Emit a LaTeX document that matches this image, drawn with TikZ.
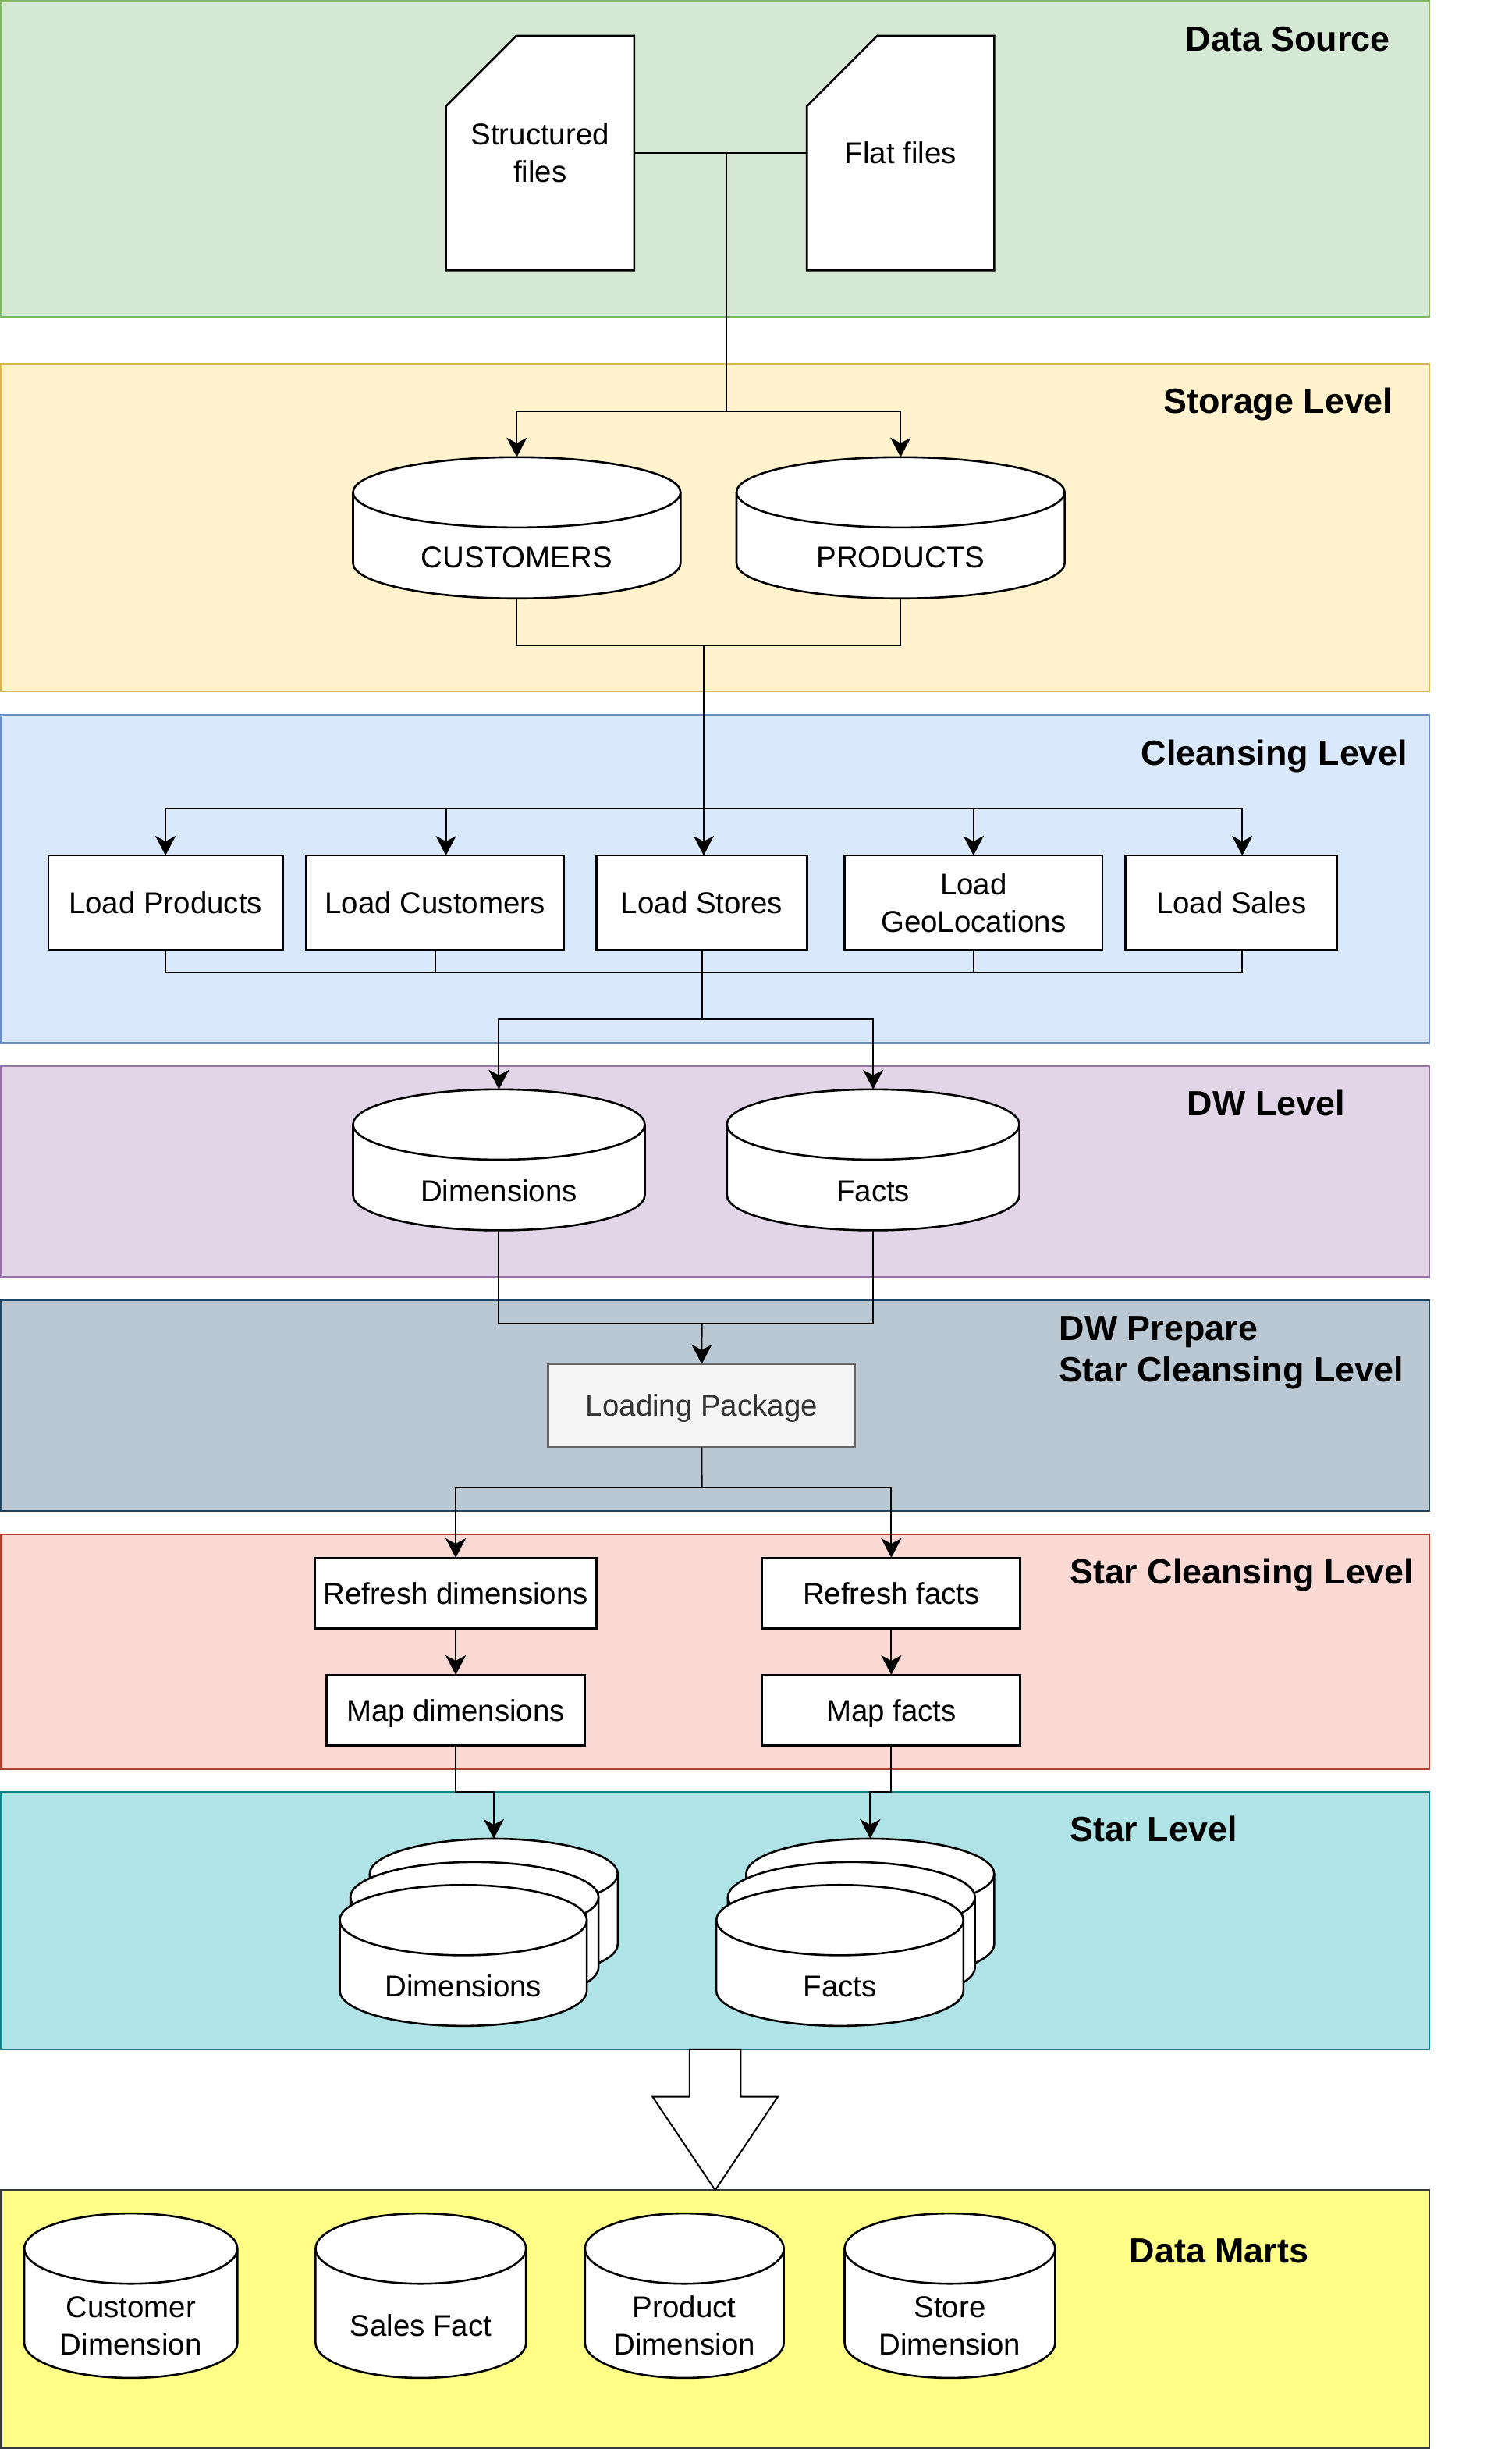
\documentclass[tikz,border=0pt]{standalone}
\usepackage{fontspec}
\setmainfont{Liberation Sans}
\usetikzlibrary{arrows.meta,calc}
\definecolor{dsF}{HTML}{D5E8D4}\definecolor{dsD}{HTML}{82B366}
\definecolor{stF}{HTML}{FFF2CC}\definecolor{stD}{HTML}{D6B656}
\definecolor{clF}{HTML}{DAE8FC}\definecolor{clD}{HTML}{6C8EBF}
\definecolor{dwF}{HTML}{E1D5E7}\definecolor{dwD}{HTML}{9673A6}
\definecolor{prF}{HTML}{BAC8D3}\definecolor{prD}{HTML}{23445D}
\definecolor{scF}{HTML}{FAD9D5}\definecolor{scD}{HTML}{AE4132}
\definecolor{slF}{HTML}{B0E3E6}\definecolor{slD}{HTML}{0E8088}
\definecolor{dmF}{HTML}{FFFF88}\definecolor{dmD}{HTML}{36393D}
\definecolor{lpF}{HTML}{F5F5F5}\definecolor{lpD}{HTML}{666666}\definecolor{lpT}{HTML}{333333}
\tikzset{
  band/.style={line width=1.3pt, inner sep=0pt, outer sep=0pt, minimum width=914.25pt},
  ttl/.style={font=\fontsize{22.4}{26.5}\selectfont\bfseries, inner sep=0pt, anchor=base west},
  txt/.style={font=\fontsize{19.2}{24}\selectfont, inner sep=0pt, text height=13.7pt, text depth=0pt},
  mtxt/.style={font=\fontsize{19.2}{24}\selectfont, inner sep=0pt, align=center},
  box/.style={draw, fill=white, line width=1.3pt, inner sep=0pt, outer sep=0pt, font=\fontsize{19.2}{24}\selectfont, text height=13.7pt, text depth=0pt},
  mbox/.style={draw, fill=white, line width=1.3pt, inner sep=0pt, outer sep=0pt, font=\fontsize{19.2}{24}\selectfont, align=center},
  conn/.style={line width=1pt},
  arr/.style={conn, -{Stealth[length=12.5pt,width=13pt,inset=3.5pt]}},
  cylline/.style={draw, fill=white, line width=1.3pt},
  frame/.style={inner sep=0pt, outer sep=0pt},
}
% cylinder: name, x1, y1, x2, y2
\newcommand{\dbcyl}[5]{%
  \node[frame, minimum width={(#4)-(#2)}, minimum height={(#5)-(#3)}] (#1) at ({((#2)+(#4))/2},{((#3)+(#5))/2}) {};
  \pgfmathsetmacro\cylrx{((#4)-(#2))/2}
  \draw[cylline] ({#2},{(#3)+22.5}) -- ({#2},{(#5)-22.5})
     arc[start angle=180, end angle=0, x radius=\cylrx, y radius=22.5]
     -- ({#4},{(#3)+22.5})
     arc[start angle=0, end angle=-180, x radius=\cylrx, y radius=22.5] -- cycle;
  \draw[cylline, fill=none] ({#2},{(#3)+22.5}) arc[start angle=180, end angle=0, x radius=\cylrx, y radius=22.5];
}
\begin{document}
\begin{tikzpicture}[x=1pt,y=-1pt]
\useasboundingbox (0,0) rectangle (968,1567.4);
% bands
\node[band, fill=dsF, draw=dsD, minimum height=202] (b1) at (457.875,101.8) {};
\node[band, fill=stF, draw=stD, minimum height=209.5] (b2) at (457.875,337.85) {};
\node[band, fill=clF, draw=clD, minimum height=210.1] (b3) at (457.875,562.65) {};
\node[band, fill=dwF, draw=dwD, minimum height=135] (b4) at (457.875,749.8) {};
\node[band, fill=prF, draw=prD, minimum height=134.9] (b5) at (457.875,899.65) {};
\node[band, fill=scF, draw=scD, minimum height=150.2] (b6) at (457.875,1057.1) {};
\node[band, fill=slF, draw=slD, minimum height=164.8] (b7) at (457.875,1229.2) {};
\node[band, fill=dmF, draw=dmD, minimum height=165.1] (b8) at (457.875,1484.25) {};
% titles
\node[ttl] (t1) at (759,32.5) {Data Source};
\node[ttl] (t2) at (744.7,264.4) {Storage Level};
\node[ttl] (t3) at (730.5,489.6) {Cleansing Level};
\node[ttl] (t4) at (760,714.1) {DW Level};
\node[ttl] (t5a) at (678,858.1) {DW Prepare};
\node[ttl] (t5b) at (678,884.5) {Star Cleansing Level};
\node[ttl] (t6) at (684.7,1013.6) {Star Cleansing Level};
\node[ttl] (t7) at (684.7,1178.4) {Star Level};
\node[ttl] (t8) at (723,1448.2) {Data Marts};
% data source cards
\node[frame, minimum width=120.5, minimum height=150] (sf) at (345.75,98) {};
\draw[cylline, line join=miter] ($(sf.north west)+(45,0)$) -- (sf.north east) -- (sf.south east) -- (sf.south west) -- ($(sf.north west)+(0,45)$) -- cycle;
\node[mtxt] (sft) at (sf.center) {Structured\\files};
\node[frame, minimum width=119.9, minimum height=150] (ff) at (576.55,98) {};
\draw[cylline, line join=miter] ($(ff.north west)+(45,0)$) -- (ff.north east) -- (ff.south east) -- (ff.south west) -- ($(ff.north west)+(0,45)$) -- cycle;
\node[txt] (fft) at (ff.center) {Flat files};
% storage
\dbcyl{cu}{226}{292.6}{435.7}{383}
\dbcyl{pr}{471.5}{292.6}{681.6}{383}
\node[txt] (cut) at (330.85,356.3) {CUSTOMERS};
\node[txt] (prt) at (576.55,356.3) {PRODUCTS};
% cleansing boxes
\node[box, minimum width=150.1, minimum height=60.3] (lp) at (105.95,577.65) {Load Products};
\node[box, minimum width=165, minimum height=60.3] (lc) at (278.5,577.65) {Load Customers};
\node[box, minimum width=134.6, minimum height=60.3] (ls) at (449.3,577.65) {Load Stores};
\node[mbox, minimum width=165.1, minimum height=60.3] (lg) at (623.25,577.65) {Load\\GeoLocations};
\node[box, minimum width=135.4, minimum height=60.3] (lsa) at (788.3,577.65) {Load Sales};
% DW level
\dbcyl{dm}{226}{697.2}{412.8}{787.4}
\dbcyl{fc}{465.4}{697.2}{652.6}{787.4}
\node[txt] (dmt) at (319.4,762) {Dimensions};
\node[txt] (fct) at (559,762) {Facts};
% prepare
\node[box, fill=lpF, draw=lpD, text=lpT, minimum width=196.5, minimum height=53.2] (lpk) at (449.25,899.6) {Loading Package};
% star cleansing
\node[box, minimum width=180.5, minimum height=45.3] (rd) at (291.75,1019.65) {Refresh dimensions};
\node[box, minimum width=165.2, minimum height=45.3] (rf) at (570.6,1019.65) {Refresh facts};
\node[box, minimum width=165.5, minimum height=45.3] (md) at (291.75,1094.55) {Map dimensions};
\node[box, minimum width=165.2, minimum height=45.3] (mf) at (570.6,1094.55) {Map facts};
% star level
\dbcyl{sdA}{236.7}{1176.8}{395.5}{1266.8}
\dbcyl{sdB}{224.3}{1191.7}{383.2}{1281.7}
\dbcyl{sdC}{217.5}{1206.4}{375.7}{1296.6}
\dbcyl{sfA}{477.7}{1176.8}{636.5}{1266.8}
\dbcyl{sfB}{466}{1191.7}{624.2}{1281.7}
\dbcyl{sfC}{458.6}{1206.4}{616.8}{1296.6}
\node[txt] (sdt) at (296.6,1271.2) {Dimensions};
\node[txt] (sfct) at (537.7,1271.2) {Facts};
% data marts
\dbcyl{cdm}{15.5}{1416.6}{152}{1521.9}
\dbcyl{sfa}{202}{1416.6}{336.8}{1521.9}
\dbcyl{pdm}{374.5}{1416.6}{501.8}{1521.9}
\dbcyl{sdm}{540.7}{1416.6}{675.5}{1521.9}
\node[mtxt] (cdmt) at (83.75,1488.5) {Customer\\Dimension};
\node[txt] (sfat) at (269.4,1488.6) {Sales Fact};
\node[mtxt] (pdmt) at (438.15,1488.5) {Product\\Dimension};
\node[mtxt] (sdmt) at (608.1,1488.5) {Store\\Dimension};
% connectors
\coordinate (j1) at (465,98);
\coordinate (j2) at (465,263.1);
\draw[conn] (sf.east) -- (ff.west);
\draw[conn] (j1) -- (j2);
\draw[arr] (j2) -| (cu.north);
\draw[arr] (j2) -| (pr.north);
\coordinate (j3) at (450.5,413);
\coordinate (j4) at (450.5,517.5);
\draw[conn] (cu.south) |- (j3) -| (pr.south);
\draw[arr] (j3) -- (j3 |- ls.north);
\draw[arr] (j4) -| (lp.north);
\draw[arr] (j4) -| ([xshift=7pt]lc.north);
\draw[arr] (j4) -| (lg.north);
\draw[arr] (j4) -| ([xshift=7pt]lsa.north);
\coordinate (j5) at (449.3,622.4);
\coordinate (j6) at (449.3,652.4);
\draw[conn] (lp.south) |- (j5) -| ([xshift=7pt]lsa.south);
\draw[conn] (lc.south) -- (lc.south |- j5);
\draw[conn] (lg.south) -- (lg.south |- j5);
\draw[conn] (ls.south) -- (j6);
\draw[arr] (j6) -| (dm.north);
\draw[arr] (j6) -| (fc.north);
\coordinate (j7) at (449.3,847.3);
\draw[conn] (dm.south) |- (j7) -| (fc.south);
\draw[arr] (j7) -- (lpk.north);
\coordinate (j8) at (449.3,952);
\draw[conn] (lpk.south) -- (j8);
\draw[arr] (j8) -| (rd.north);
\draw[arr] (j8) -| (rf.north);
\draw[arr] (rd.south) -- (md.north);
\draw[arr] (rf.south) -- (mf.north);
\coordinate (j9) at (291.75,1146.8);
\coordinate (j10) at (570.6,1146.8);
\draw[arr] (md.south) -- (j9) -| (sdA.north);
\draw[arr] (mf.south) -- (j10) -| (sfA.north);
% big arrow
\draw[line width=1pt, fill=white, line join=miter]
  ($(b7.south)+(-16.35,0)$) -- ++(0,30.3) -- ++(-23.8,0) -- (b8.north)
  -- ($(b7.south)+(40.15,30.3)$) -- ++(-23.8,0) -- ($(b7.south)+(16.35,0)$) -- cycle;
\end{tikzpicture}
\end{document}
